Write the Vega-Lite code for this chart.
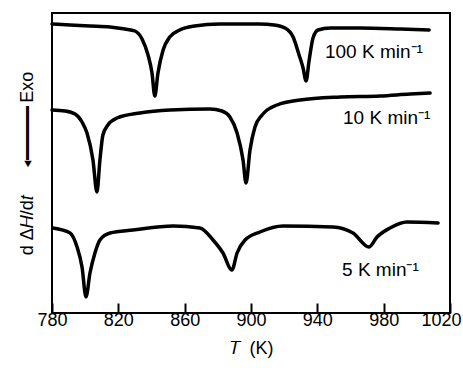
{
  "$schema": "https://vega.github.io/schema/vega-lite/v6.json",
  "width": 398,
  "height": 300,
  "autosize": "none",
  "padding": {"left": 52, "top": 13, "right": 13, "bottom": 61},
  "background": "white",
  "config": {
    "view": {"stroke": "black", "strokeWidth": 2},
    "font": "Liberation Sans"
  },
  "datasets": {
    "curves": [
      {"rate": "100", "T": 780.0, "signal": 289},
      {"rate": "100", "T": 790.9, "signal": 288},
      {"rate": "100", "T": 802.9, "signal": 287},
      {"rate": "100", "T": 815.0, "signal": 286},
      {"rate": "100", "T": 824.0, "signal": 284},
      {"rate": "100", "T": 830.0, "signal": 282},
      {"rate": "100", "T": 834.3, "signal": 274},
      {"rate": "100", "T": 837.9, "signal": 258},
      {"rate": "100", "T": 840.3, "signal": 240},
      {"rate": "100", "T": 842.0, "signal": 217},
      {"rate": "100", "T": 843.9, "signal": 240},
      {"rate": "100", "T": 847.0, "signal": 263},
      {"rate": "100", "T": 851.0, "signal": 276},
      {"rate": "100", "T": 857.0, "signal": 283},
      {"rate": "100", "T": 866.0, "signal": 287},
      {"rate": "100", "T": 881.0, "signal": 289},
      {"rate": "100", "T": 905.0, "signal": 289},
      {"rate": "100", "T": 914.0, "signal": 288},
      {"rate": "100", "T": 920.5, "signal": 285},
      {"rate": "100", "T": 925.4, "signal": 276},
      {"rate": "100", "T": 929.0, "signal": 258},
      {"rate": "100", "T": 931.4, "signal": 245},
      {"rate": "100", "T": 933.2, "signal": 232},
      {"rate": "100", "T": 935.0, "signal": 252},
      {"rate": "100", "T": 937.4, "signal": 275},
      {"rate": "100", "T": 940.4, "signal": 283},
      {"rate": "100", "T": 947.7, "signal": 285},
      {"rate": "100", "T": 965.8, "signal": 285},
      {"rate": "100", "T": 990.0, "signal": 284},
      {"rate": "100", "T": 1007.4, "signal": 283},

      {"rate": "10", "T": 780.0, "signal": 203},
      {"rate": "10", "T": 787.8, "signal": 202},
      {"rate": "10", "T": 793.9, "signal": 199},
      {"rate": "10", "T": 798.1, "signal": 191},
      {"rate": "10", "T": 801.1, "signal": 180},
      {"rate": "10", "T": 804.7, "signal": 153},
      {"rate": "10", "T": 807.1, "signal": 121},
      {"rate": "10", "T": 808.9, "signal": 153},
      {"rate": "10", "T": 810.7, "signal": 178},
      {"rate": "10", "T": 813.7, "signal": 188},
      {"rate": "10", "T": 819.2, "signal": 195},
      {"rate": "10", "T": 833.0, "signal": 200},
      {"rate": "10", "T": 851.2, "signal": 203},
      {"rate": "10", "T": 875.3, "signal": 204},
      {"rate": "10", "T": 882.5, "signal": 202},
      {"rate": "10", "T": 887.3, "signal": 196},
      {"rate": "10", "T": 891.6, "signal": 180},
      {"rate": "10", "T": 895.2, "signal": 153},
      {"rate": "10", "T": 897.0, "signal": 130},
      {"rate": "10", "T": 899.4, "signal": 163},
      {"rate": "10", "T": 902.4, "signal": 186},
      {"rate": "10", "T": 906.7, "signal": 198},
      {"rate": "10", "T": 909.7, "signal": 203},
      {"rate": "10", "T": 915.7, "signal": 208},
      {"rate": "10", "T": 929.6, "signal": 213},
      {"rate": "10", "T": 953.7, "signal": 216},
      {"rate": "10", "T": 977.8, "signal": 217},
      {"rate": "10", "T": 996.0, "signal": 219},
      {"rate": "10", "T": 1008.0, "signal": 220},

      {"rate": "5", "T": 780.6, "signal": 85},
      {"rate": "5", "T": 790.9, "signal": 80},
      {"rate": "5", "T": 795.1, "signal": 66},
      {"rate": "5", "T": 798.1, "signal": 46},
      {"rate": "5", "T": 800.5, "signal": 16},
      {"rate": "5", "T": 802.9, "signal": 40},
      {"rate": "5", "T": 805.9, "signal": 60},
      {"rate": "5", "T": 808.9, "signal": 73},
      {"rate": "5", "T": 815.0, "signal": 80},
      {"rate": "5", "T": 828.8, "signal": 83},
      {"rate": "5", "T": 853.0, "signal": 87},
      {"rate": "5", "T": 869.2, "signal": 85},
      {"rate": "5", "T": 877.1, "signal": 73},
      {"rate": "5", "T": 883.1, "signal": 60},
      {"rate": "5", "T": 888.5, "signal": 43},
      {"rate": "5", "T": 891.6, "signal": 60},
      {"rate": "5", "T": 896.4, "signal": 73},
      {"rate": "5", "T": 905.4, "signal": 81},
      {"rate": "5", "T": 919.3, "signal": 87},
      {"rate": "5", "T": 949.4, "signal": 86},
      {"rate": "5", "T": 961.5, "signal": 80},
      {"rate": "5", "T": 971.2, "signal": 66},
      {"rate": "5", "T": 976.0, "signal": 76},
      {"rate": "5", "T": 983.8, "signal": 85},
      {"rate": "5", "T": 994.1, "signal": 91},
      {"rate": "5", "T": 1012.8, "signal": 90}
    ],
    "labels": [
      {"T": 944.6, "signal": 261, "label": "100 K min⁻¹"},
      {"T": 955.5, "signal": 195, "label": "10 K min⁻¹"},
      {"T": 954.9, "signal": 43, "label": "5 K min⁻¹"}
    ]
  },
  "layer": [
    {
      "data": {"name": "curves"},
      "mark": {"type": "line", "color": "black", "strokeWidth": 3.5, "strokeJoin": "round", "strokeCap": "round", "interpolate": "monotone"},
      "encoding": {
        "x": {
          "field": "T", "type": "quantitative",
          "scale": {"domain": [780, 1020], "nice": false, "zero": false},
          "axis": {
            "title": "𝑇\u2002(K)",
            "values": [780, 820, 860, 900, 940, 980, 1020],
            "format": "d",
            "grid": false,
            "domain": false,
            "tickSize": -10,
            "tickWidth": 2,
            "tickColor": "black",
            "labelFontSize": 18,
            "labelColor": "black",
            "labelPadding": 8,
            "labelFlush": false,
            "labelOffset": {"condition": {"test": "datum.value == 1020", "value": -9}, "value": 0},
            "titleFontSize": 18,
            "titleFontWeight": "normal",
            "titleColor": "black",
            "titlePadding": 10
          }
        },
        "y": {
          "field": "signal", "type": "quantitative",
          "scale": {"domain": [0, 300], "nice": false, "zero": false},
          "axis": {
            "title": "d Δ𝐻/d𝑡\u2003\u2002◂━━━\u2009Exo",
            "grid": false,
            "domain": false,
            "ticks": false,
            "labels": false,
            "titleFontSize": 18,
            "titleFontWeight": "normal",
            "titleColor": "black",
            "titlePadding": 16
          }
        },
        "detail": {"field": "rate", "type": "nominal"}
      }
    },
    {
      "data": {"name": "labels"},
      "mark": {"type": "text", "align": "left", "baseline": "middle", "fontSize": 19, "color": "black"},
      "encoding": {
        "x": {"field": "T", "type": "quantitative"},
        "y": {"field": "signal", "type": "quantitative"},
        "text": {"field": "label"}
      }
    }
  ]
}
